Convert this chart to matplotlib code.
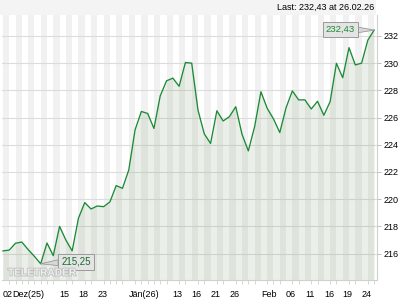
import matplotlib
matplotlib.use("Agg")
import matplotlib.pyplot as plt
import matplotlib.patheffects as pe
from matplotlib.patches import Rectangle
import numpy as np

plt.rcParams['font.family'] = ['Liberation Sans', 'DejaVu Sans']

# ---- data ----
prices = [216.2, 216.26, 216.76, 216.85, 216.3, 215.8, 215.25, 216.78, 215.85, 218.0,
          217.0, 216.2, 218.6, 219.75, 219.28, 219.5, 219.45, 219.8, 221.0, 220.8,
          222.15, 225.1, 226.45, 226.3, 225.2, 227.6, 228.7, 228.9, 228.3, 230.05,
          230.0, 226.55, 224.8, 224.1, 226.5, 225.75, 226.07, 226.8, 224.77, 223.55,
          225.33, 227.9, 226.68, 225.9, 224.9, 226.73, 227.96, 227.3, 227.3, 226.63,
          227.2, 226.17, 227.17, 229.99, 228.93, 231.14, 229.87, 230.0, 231.7, 232.43]
tick_idx = [0, 1.45, 9, 12, 15, 20, 27, 30, 33, 36, 41, 45, 48, 51, 54, 57]
tick_labels = ["02", "Dez(25)", "15", "18", "23", "Jän(26)", "13", "16", "21", "26",
               "Feb", "06", "11", "16", "19", "24"]
y_ticks = [216, 218, 220, 222, 224, 226, 228, 230, 232]
last_text = "Last: 232,43 at 26.02.26"
hi_label = "232,43"
lo_label = "215,25"

W, H = 420, 300
fig = plt.figure(figsize=(W / 100, H / 100), dpi=100)
fig.patch.set_facecolor('white')

# header band
fig.patches.append(Rectangle((0, (H - 15) / H), 376 / W, 15 / H, transform=fig.transFigure,
                             facecolor='#f4f4f4', edgecolor='none', zorder=0))
fig.text(374 / W, 1 - 7.5 / H, last_text, ha='right', va='center', fontsize=6.5, color='#000000')

ax = fig.add_axes([2 / W, 20 / H, 375 / W, 265 / H])
n = len(prices)
x = np.arange(n)
ax.set_xlim(-0.15, 59.45)
ax.set_ylim(214.06, 233.54)

# stripes (one per day)
for i in range(0, 60, 2):
    ax.axvspan(i, i + 1, facecolor='#f1f1f1', lw=0, zorder=0.5)

# grid
for yv in y_ticks:
    ax.axhline(yv, color='#dcdcdc', lw=0.8, zorder=1)

ax.fill_between(x, prices, 214.06, color='#5a8a4a', alpha=0.12, lw=0, zorder=2)
ax.plot(x, prices, color='#1b8a35', lw=0.95, zorder=3)

# spines
for s in ['top', 'left']:
    ax.spines[s].set_visible(False)
ax.spines['right'].set_color('#d0d0d0')
ax.spines['bottom'].set_color('#d0d0d0')
ax.spines['right'].set_linewidth(0.8)
ax.spines['bottom'].set_linewidth(0.8)

ax.yaxis.tick_right()
ax.set_yticks(y_ticks)
ax.set_yticklabels([str(v) for v in y_ticks])
ax.tick_params(axis='y', length=3, width=0.7, color='#c0c0c0', pad=2, labelsize=6.5,
               labelcolor='#000000')

ax.set_xticks(np.arange(n), minor=True)
ax.set_xticks(tick_idx)
ax.set_xticklabels(tick_labels)
for lbl in ax.get_xticklabels():
    lbl.set_ha('left')
ax.tick_params(axis='x', which='major', length=0, pad=7, labelsize=6.5, labelcolor='#000000')
ax.tick_params(axis='x', which='minor', length=3, width=0.6, color='#d0d0d0')

# annotations
imax = int(np.argmax(prices))
imin = int(np.argmin(prices))
bbox = dict(boxstyle='square,pad=0.3', fc='#e4e4e4', ec='#9a9a9a', lw=0.7)
ax.annotate(hi_label, xy=(x[imax], prices[imax]), xytext=(-24.5, 0.3), textcoords='offset points',
            ha='center', va='center', fontsize=6.8, color='#1b8a35', bbox=bbox, zorder=6,
            arrowprops=dict(arrowstyle='wedge,tail_width=0.6,shrink_factor=0.5', fc='#d8d8d8',
                            ec='#9a9a9a', lw=0.6, shrinkA=0, shrinkB=0))
ax.annotate(lo_label, xy=(x[imin], prices[imin]), xytext=(25.5, 1.6), textcoords='offset points',
            ha='center', va='center', fontsize=7, color='#1b6b2d', bbox=bbox, zorder=6,
            arrowprops=dict(arrowstyle='wedge,tail_width=0.6,shrink_factor=0.5', fc='#d8d8d8',
                            ec='#9a9a9a', lw=0.6, shrinkA=0, shrinkB=0))

# watermark (on top)
ax.text(0.016, 0.028, "TELETRADER", transform=ax.transAxes, fontsize=7.3, fontweight='bold',
        color='#f2f2f2', ha='left', va='center', zorder=8, alpha=0.9,
        path_effects=[pe.withStroke(linewidth=1.3, foreground='#bdbdbd')])

fig.savefig('out.png', dpi=100)
